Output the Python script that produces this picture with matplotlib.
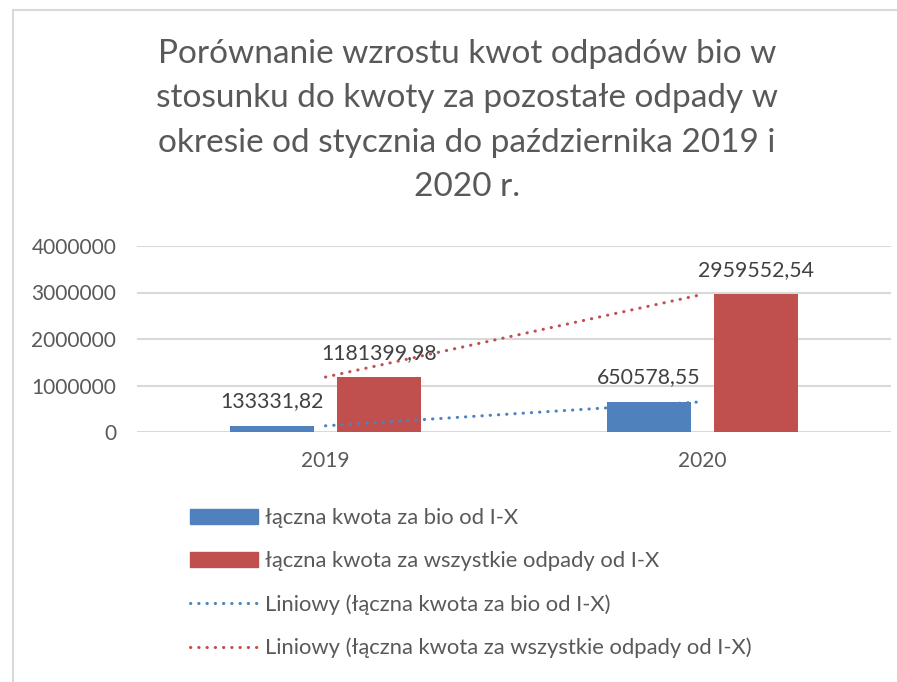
import matplotlib.pyplot as plt
import matplotlib.patches as mpatches
from matplotlib.lines import Line2D
import numpy as np

plt.rcParams['font.family'] = ['Lato', 'DejaVu Sans']

# data
years = ['2019', '2020']
bio = [133331.82, 650578.55]
wszystkie = [1181399.98, 2959552.54]
bio_labels = ['133331,82', '650578,55']
wszystkie_labels = ['1181399,98', '2959552,54']
series_names = ['łączna kwota za bio od I-X', 'łączna kwota za wszystkie odpady od I-X']
title = ('Porównanie wzrostu kwot odpadów bio w\nstosunku do kwoty za pozostałe odpady w\n'
         'okresie od stycznia do października 2019 i\n2020 r.')

blue = '#4F81BD'
red = '#C0504D'
txt = '#595959'

W, H = 897, 682
fig = plt.figure(figsize=(W / 100, H / 100), dpi=100)

# light frame like the Excel chart area (only top/left visible)
fig.patches.append(mpatches.Rectangle((13 / W, -0.1), 1.2, 1.1 - 10 / H, transform=fig.transFigure,
                                      fill=False, edgecolor='#d9d9d9', linewidth=1.5))

ax = fig.add_axes([137 / W, 1 - 432 / H, (891 - 137) / W, (432 - 246) / H])

x = np.arange(len(years))
width = 0.223
off = 0.142
b1 = ax.bar(x - off, bio, width, color=blue, label=series_names[0], zorder=3)
b2 = ax.bar(x + off, wszystkie, width, color=red, label=series_names[1], zorder=3)

# linear trendlines
dots = (0, (0.1, 2.6))
for vals, col in [(bio, blue), (wszystkie, red)]:
    k, b = np.polyfit(x, vals, 1)
    ax.plot(x, k * x + b, color=col, linewidth=2.2, linestyle=dots,
            dash_capstyle='round', zorder=4)

for rects, labs in [(b1, bio_labels), (b2, wszystkie_labels)]:
    for r, lab in zip(rects, labs):
        ax.annotate(lab, (r.get_x() + r.get_width() / 2, r.get_height()),
                    xytext=(0, 17.5), textcoords='offset points', ha='center', va='center',
                    fontsize=15.3, color='#404040', zorder=5)

ax.set_xlim(-0.5, 1.5)
ax.set_ylim(0, 4000000)
ax.set_yticks([0, 1000000, 2000000, 3000000, 4000000])
ax.set_yticklabels(['0', '1000000', '2000000', '3000000', '4000000'])
ax.set_xticks(x)
ax.set_xticklabels(years)
ax.tick_params(axis='both', length=0, labelsize=15, labelcolor=txt)
ax.tick_params(axis='y', pad=15)
ax.tick_params(axis='x', pad=14)
ax.grid(axis='y', color='#d9d9d9', linewidth=1.5, zorder=0)
for s in ax.spines.values():
    s.set_visible(False)

fig.text(467 / W, 1 - 39 / H, title, ha='center', va='top', fontsize=24,
         color=txt, linespacing=1.6)

handles = [
    mpatches.Patch(color=blue),
    mpatches.Patch(color=red),
    Line2D([], [], color=blue, linewidth=2.2, linestyle=dots, dash_capstyle='round'),
    Line2D([], [], color=red, linewidth=2.2, linestyle=dots, dash_capstyle='round'),
]
labels = series_names + ['Liniowy (' + series_names[0] + ')', 'Liniowy (' + series_names[1] + ')']
leg = fig.legend(handles, labels, loc='upper left', bbox_to_anchor=(190 / W, 1 - 508 / H),
                 frameon=False, fontsize=15.8, handlelength=3.1, handleheight=0.65,
                 handletextpad=0.33, labelspacing=1.05, borderpad=0, borderaxespad=0)
for t in leg.get_texts():
    t.set_color(txt)

fig.savefig('out.png', dpi=100, facecolor='white')
